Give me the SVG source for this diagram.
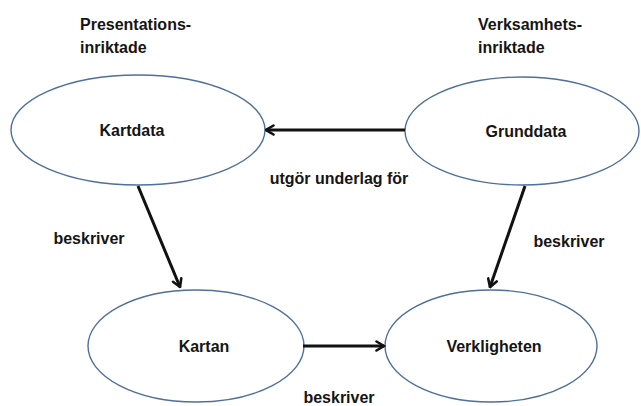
<svg xmlns="http://www.w3.org/2000/svg" width="641" height="406" viewBox="0 0 641 406">
<defs>
<marker id="arr" viewBox="0 0 12 12" refX="10.5" refY="6" markerWidth="12" markerHeight="12" markerUnits="userSpaceOnUse" orient="auto">
<path d="M3,1.5 L10.5,6 L3,10.5" fill="none" stroke="#111" stroke-width="2.6" stroke-linecap="round" stroke-linejoin="miter"/>
</marker>
</defs>
<style>
.node ellipse{fill:#fff;stroke:#4f6f9c;stroke-width:1.4}
text{font-family:"Liberation Sans",Arial,sans-serif;font-weight:bold;font-size:16px;fill:#151515}
.c{text-anchor:middle}
.conn line{stroke:#111;stroke-width:3;marker-end:url(#arr)}
</style>
<g id="labels-top">
<text x="80" y="30">Presentations-</text>
<text x="80" y="53">inriktade</text>
<text x="478" y="30">Verksamhets-</text>
<text x="478" y="53">inriktade</text>
</g>
<g id="kartdata" class="node">
<ellipse cx="138" cy="130" rx="127" ry="55"/>
<text class="c" x="132" y="136">Kartdata</text>
</g>
<g id="grunddata" class="node">
<ellipse cx="522" cy="131" rx="117" ry="54"/>
<text class="c" x="526" y="137">Grunddata</text>
</g>
<g id="kartan" class="node">
<ellipse cx="196" cy="346" rx="108" ry="56"/>
<text class="c" x="204" y="352">Kartan</text>
</g>
<g id="verkligheten" class="node">
<ellipse cx="491" cy="346" rx="106" ry="56"/>
<text class="c" x="494" y="352">Verkligheten</text>
</g>
<g id="connectors" class="conn">
<line x1="405" y1="130" x2="266" y2="130"/>
<line x1="138" y1="186" x2="180" y2="287"/>
<line x1="525" y1="186" x2="490" y2="287"/>
<line x1="303" y1="346" x2="384" y2="346"/>
</g>
<g id="edge-labels">
<text class="c" x="339" y="184">utgör underlag för</text>
<text class="c" x="89" y="244">beskriver</text>
<text class="c" x="569" y="247">beskriver</text>
<text class="c" x="339" y="403">beskriver</text>
</g>
</svg>
